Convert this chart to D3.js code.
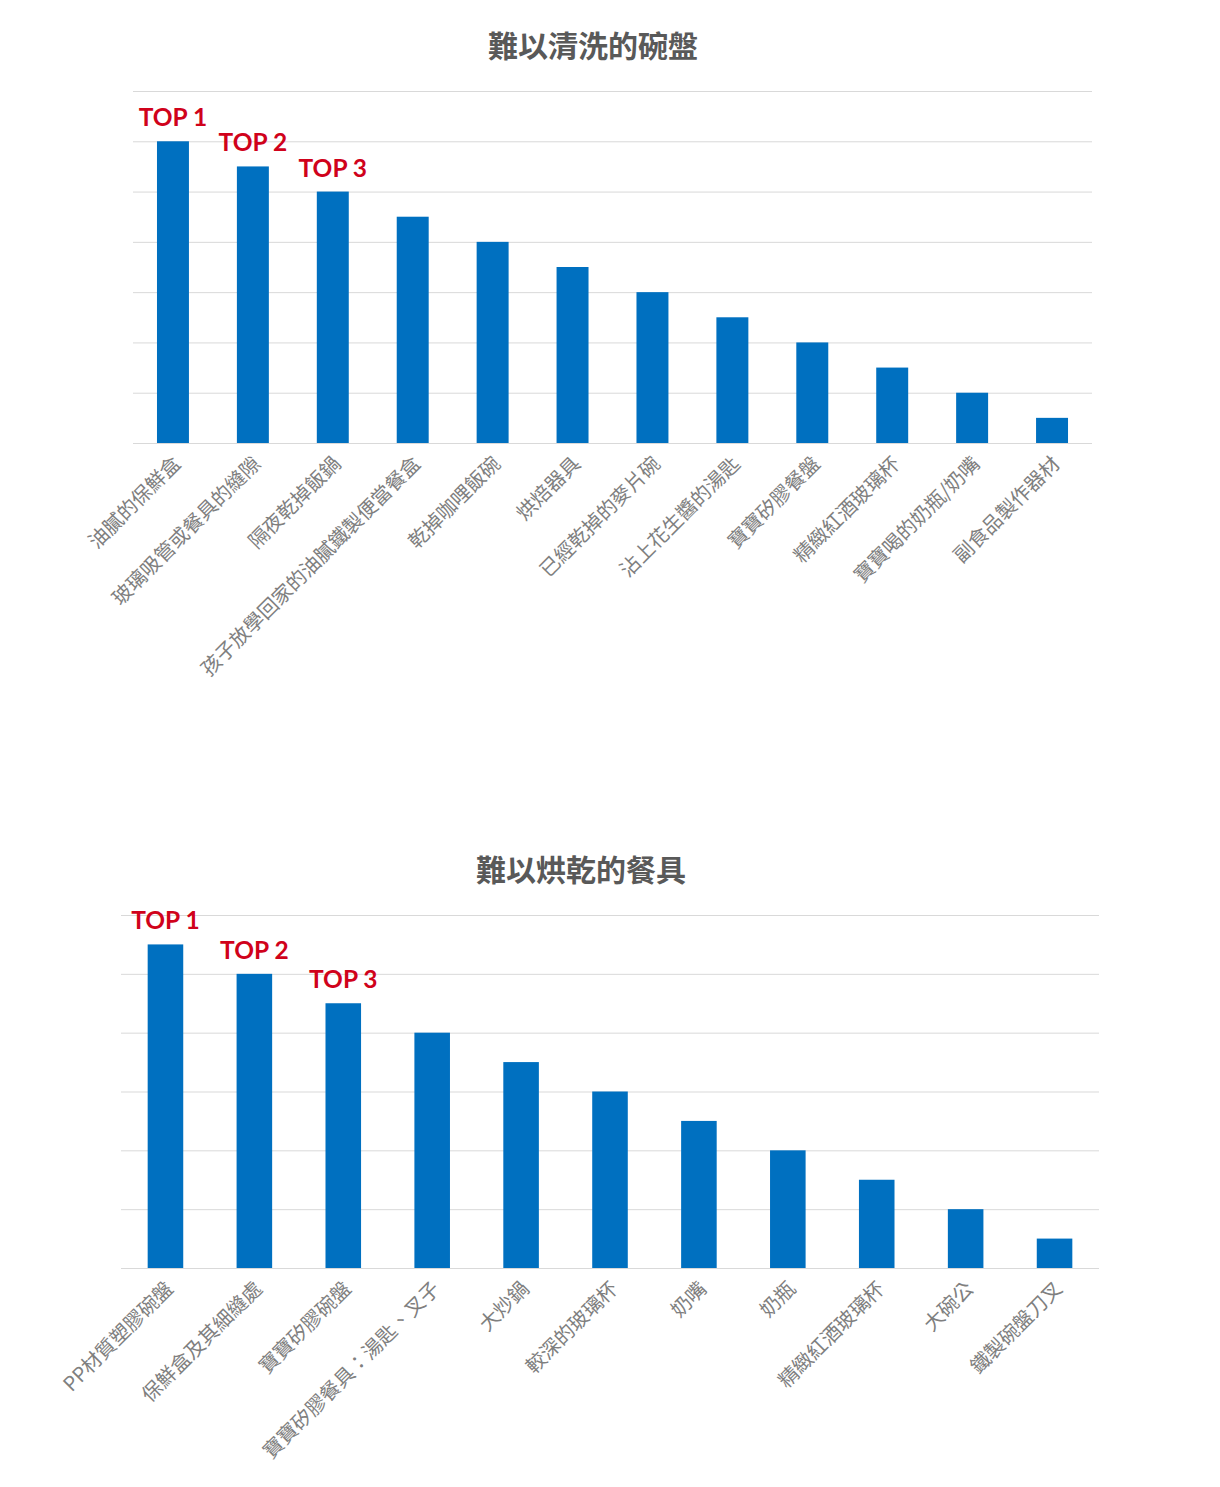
<!DOCTYPE html>
<html>
<head>
<meta charset="utf-8">
<script src="https://cdn.jsdelivr.net/npm/d3@7"></script>
<style>
  body { margin: 0; background: #fff; }
  svg { display: block; }
</style>
</head>
<body>
<div id="chart"></div>
<script>
'use strict';

// chart 1 - hard to wash
const washTitle = "難以清洗的碗盤";
const washItems = [
  "油膩的保鮮盒", "玻璃吸管或餐具的縫隙", "隔夜乾掉飯鍋", "孩子放學回家的油膩鐵製便當餐盒",
  "乾掉咖哩飯碗", "烘焙器具", "已經乾掉的麥片碗", "沾上花生醬的湯匙",
  "寶寶矽膠餐盤", "精緻紅酒玻璃杯", "寶寶喝的奶瓶/奶嘴", "副食品製作器材"
];
const washValues = [12, 11, 10, 9, 8, 7, 6, 5, 4, 3, 2, 1];
const washTicks = [0, 2, 4, 6, 8, 10, 12, 14];

// chart 2 - hard to dry
const dryTitle = "難以烘乾的餐具";
const dryItems = [
  "PP材質塑膠碗盤", "保鮮盒及其細縫處", "寶寶矽膠碗盤", "寶寶矽膠餐具：湯匙、叉子",
  "大炒鍋", "較深的玻璃杯", "奶嘴", "奶瓶", "精緻紅酒玻璃杯", "大碗公", "鐵製碗盤刀叉"
];
const dryValues = [11, 10, 9, 8, 7, 6, 5, 4, 3, 2, 1];
const dryTicks = [0, 2, 4, 6, 8, 10, 12];

const topLabels = ["TOP 1", "TOP 2", "TOP 3"];

const width = 1220;
const height = 1487;

const svg = d3.select("#chart")
  .append("svg")
  .attr("width", width)
  .attr("height", height);


function drawChart(options) {
  const g = svg.append("g");

  const x = d3.scaleBand()
    .domain(options.items)
    .range([options.left, options.right])
    .paddingInner(0.6)
    .paddingOuter(0.3);

  const y = d3.scaleLinear()
    .domain([0, d3.max(options.ticks)])
    .range([options.bottom, options.top]);

  // title
  g.append("text")
    .attr("x", options.titleX)
    .attr("y", options.titleY)
    .attr("text-anchor", "middle")
    .attr("font-family", "'Noto Sans CJK TC', sans-serif")
    .attr("font-size", 30)
    .attr("font-weight", "bold")
    .attr("fill", "#595959")
    .text(options.title);

  // gridlines
  const grid = d3.axisLeft(y)
    .tickValues(options.ticks)
    .tickSize(-(options.right - options.left))
    .tickFormat("");

  g.append("g")
    .attr("transform", `translate(${options.left},0)`)
    .call(grid)
    .call(s => s.select(".domain").remove())
    .call(s => s.selectAll("line").attr("stroke", "#d9d9d9").attr("stroke-width", 1));

  // bars
  g.selectAll("rect")
    .data(options.values)
    .enter()
    .append("rect")
    .attr("x", (d, i) => x(options.items[i]))
    .attr("width", x.bandwidth())
    .attr("y", d => y(d))
    .attr("height", d => y(0) - y(d))
    .attr("fill", "#0070c0");

  // category labels
  const xAxis = d3.axisBottom(x).tickSize(0).tickPadding(0);
  g.append("g")
    .attr("transform", `translate(0,${options.bottom})`)
    .call(xAxis)
    .call(s => s.select(".domain").remove())
    .call(s => s.selectAll("text")
      .attr("font-family", "'Noto Sans CJK TC', sans-serif")
      .attr("font-size", 20)
      .attr("fill", "#7f7f7f")
      .attr("text-anchor", "end")
      .attr("dy", null)
      .attr("y", 0)
      .attr("transform", "translate(9,22) rotate(-45)"));

  // TOP n
  g.selectAll(".top")
    .data(topLabels)
    .enter()
    .append("text")
    .attr("class", "top")
    .attr("x", (d, i) => x(options.items[i]) + x.bandwidth() / 2)
    .attr("y", (d, i) => y(options.values[i]) - 15)
    .attr("text-anchor", "middle")
    .attr("font-family", "Lato, sans-serif")
    .attr("font-weight", "bold")
    .attr("font-size", 24.5)
    .attr("fill", "#d0021b")
    .text(d => d);
}


drawChart({
  title: washTitle,
  items: washItems,
  values: washValues,
  ticks: washTicks,
  titleX: 593,
  titleY: 57,
  left: 133,
  right: 1092,
  top: 91,
  bottom: 443
});

drawChart({
  title: dryTitle,
  items: dryItems,
  values: dryValues,
  ticks: dryTicks,
  titleX: 581,
  titleY: 881,
  left: 121,
  right: 1099,
  top: 915,
  bottom: 1268
});
</script>
</body>
</html>
